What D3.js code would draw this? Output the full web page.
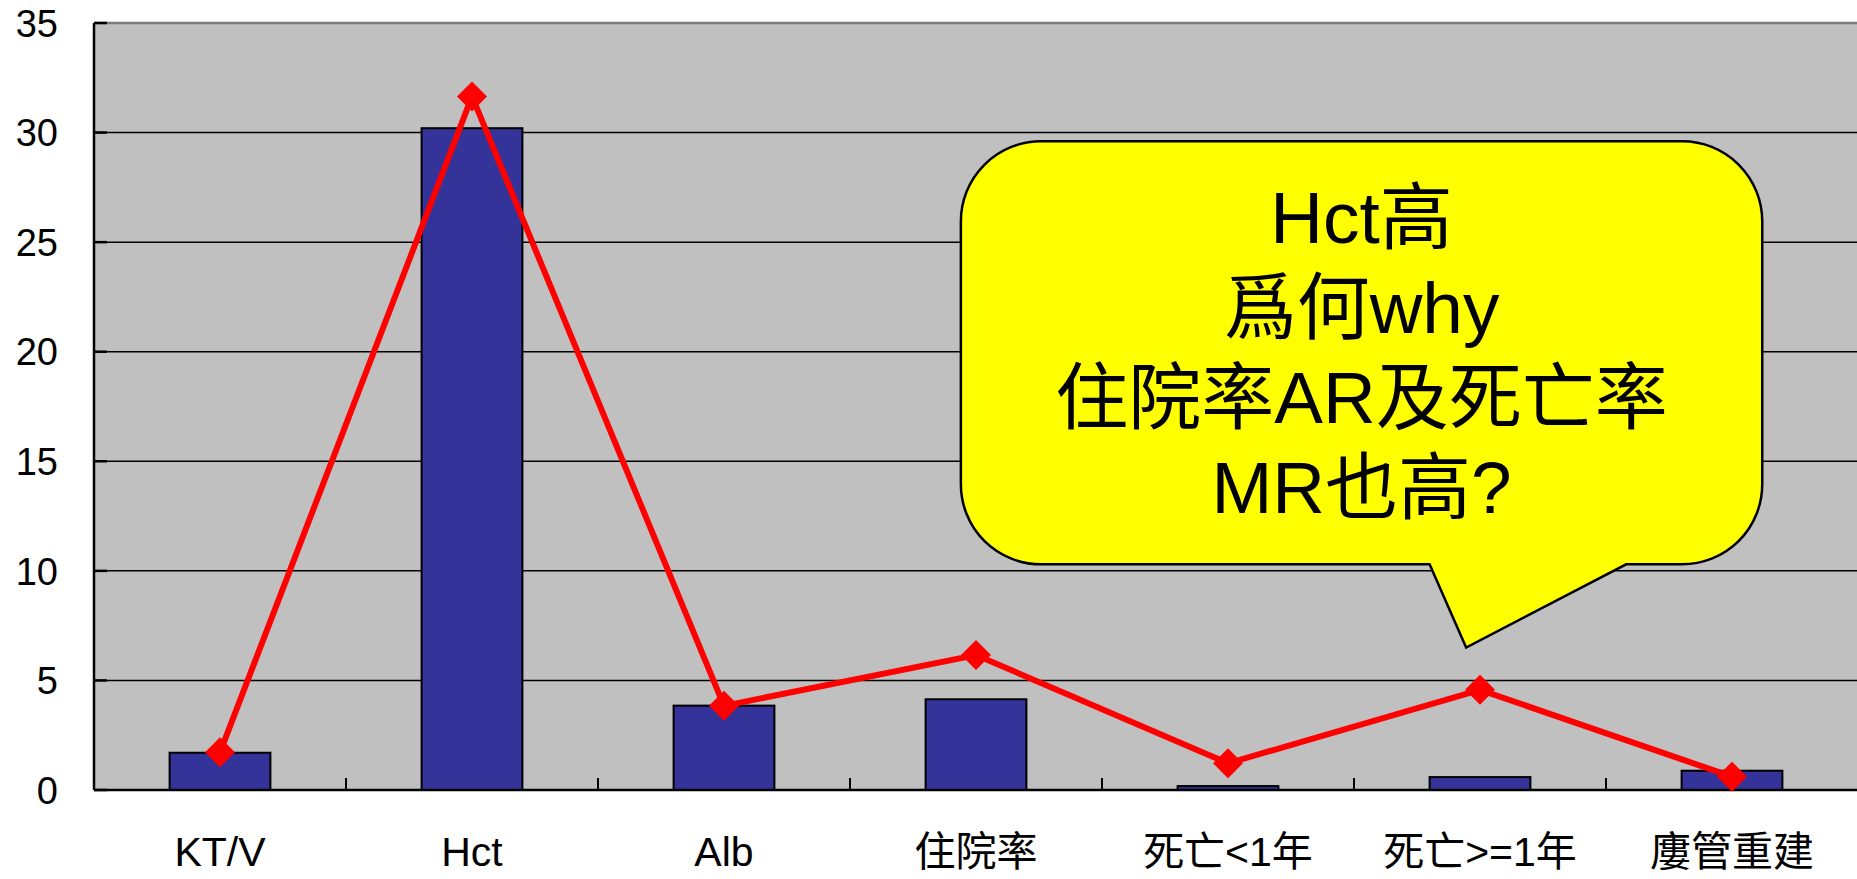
<!DOCTYPE html>
<html>
<head>
<meta charset="utf-8">
<script src="https://cdn.jsdelivr.net/npm/d3@7"></script>
<style>
  html, body { margin: 0; padding: 0; background: #fff; }
  svg { display: block; }
  text { font-family: "Liberation Sans", Arial, "Noto Sans CJK TC", sans-serif; }
</style>
</head>
<body>
<script>
////////////////////////////////////////// DATA //////////////////////////////////////////
var categories = ["KT/V", "Hct", "Alb", "住院率", "死亡<1年", "死亡>=1年", "廔管重建"];
var barValues  = [1.70, 30.2, 3.85, 4.14, 0.18, 0.59, 0.88];
var lineValues = [1.72, 31.65, 3.84, 6.16, 1.22, 4.57, 0.61];
var yTicks     = [0, 5, 10, 15, 20, 25, 30, 35];
var calloutLines = ["Hct高", "爲何why", "住院率AR及死亡率", "MR也高?"];

////////////////////////////////////////// SETUP //////////////////////////////////////////
var width = 1857,
    height = 879,
    margin = {top: 23, left: 94},
    plotW = 252 * categories.length,
    plotH = 767;

var svg = d3.select("body").append("svg")
    .attr("width", width)
    .attr("height", height);

var x = d3.scaleBand()
    .domain(categories)
    .range([margin.left, margin.left + plotW])
    .padding(0);

var y = d3.scaleLinear()
    .domain([0, 35])
    .range([margin.top + plotH, margin.top]);

var step = x.step();
var barW = step * 0.4;

// plot area
svg.append("rect")
    .attr("x", x.range()[0])
    .attr("y", y(35))
    .attr("width", plotW)
    .attr("height", plotH)
    .attr("fill", "#c0c0c0");

// gridlines
svg.append("g").selectAll("line")
    .data(yTicks.filter(function (d) { return d > 0 && d < 35; }))
    .enter().append("line")
    .attr("x1", x.range()[0]).attr("x2", x.range()[1])
    .attr("y1", function (d) { return y(d); })
    .attr("y2", function (d) { return y(d); })
    .attr("stroke", "#000")
    .attr("stroke-width", 1.5);

// top border
svg.append("line")
    .attr("x1", x.range()[0]).attr("x2", x.range()[1])
    .attr("y1", y(35)).attr("y2", y(35))
    .attr("stroke", "#7a7a7a")
    .attr("stroke-width", 2.5);

////////////////////////////////////////// BARS //////////////////////////////////////////
svg.append("g").selectAll("rect")
    .data(barValues)
    .enter().append("rect")
    .attr("x", function (d, i) { return x(categories[i]) + (step - barW) / 2; })
    .attr("y", function (d) { return y(d); })
    .attr("width", barW)
    .attr("height", function (d) { return y(0) - y(d); })
    .attr("fill", "#333399")
    .attr("stroke", "#000")
    .attr("stroke-width", 2);

////////////////////////////////////////// AXES //////////////////////////////////////////
// y axis line + inner ticks
svg.append("line")
    .attr("x1", x.range()[0]).attr("x2", x.range()[0])
    .attr("y1", y(35)).attr("y2", y(0))
    .attr("stroke", "#000").attr("stroke-width", 2.5);

svg.append("g").selectAll("line")
    .data(yTicks)
    .enter().append("line")
    .attr("x1", x.range()[0]).attr("x2", x.range()[0] + 13)
    .attr("y1", function (d) { return y(d); })
    .attr("y2", function (d) { return y(d); })
    .attr("stroke", "#000").attr("stroke-width", 2.5);

svg.append("g").selectAll("text")
    .data(yTicks)
    .enter().append("text")
    .attr("x", 58)
    .attr("y", function (d) { return y(d); })
    .attr("dy", "0.36em")
    .attr("text-anchor", "end")
    .attr("font-size", "38px")
    .attr("fill", "#000")
    .text(function (d) { return d; });

// x axis line + ticks between categories
svg.append("line")
    .attr("x1", x.range()[0]).attr("x2", x.range()[1])
    .attr("y1", y(0)).attr("y2", y(0))
    .attr("stroke", "#000").attr("stroke-width", 2.5);

svg.append("g").selectAll("line")
    .data(categories.slice(1))
    .enter().append("line")
    .attr("x1", function (d) { return x(d); })
    .attr("x2", function (d) { return x(d); })
    .attr("y1", y(0)).attr("y2", y(0) - 12)
    .attr("stroke", "#000").attr("stroke-width", 2);

svg.append("g").selectAll("text")
    .data(categories)
    .enter().append("text")
    .attr("x", function (d) { return x(d) + step / 2; })
    .attr("y", 866)
    .attr("text-anchor", "middle")
    .attr("font-size", "41px")
    .attr("fill", "#000")
    .text(function (d) { return d; });

////////////////////////////////////////// LINE //////////////////////////////////////////
var line = d3.line()
    .x(function (d, i) { return x(categories[i]) + step / 2; })
    .y(function (d) { return y(d); });

svg.append("path")
    .datum(lineValues)
    .attr("d", line)
    .attr("fill", "none")
    .attr("stroke", "#ff0000")
    .attr("stroke-width", 6)
    .attr("stroke-linejoin", "miter");

svg.append("g").selectAll("path")
    .data(lineValues)
    .enter().append("path")
    .attr("transform", function (d, i) {
        return "translate(" + (x(categories[i]) + step / 2) + "," + y(d) + ")";
    })
    .attr("d", "M0,-15L15,0L0,15L-15,0Z")
    .attr("fill", "#ff0000");

////////////////////////////////////////// CALLOUT //////////////////////////////////////////
// position in category units (u) and value units
function px(u) { return x.range()[0] + u * step; }

var bx0 = px(3.44), bx1 = px(6.62),
    by0 = y(29.6), by1 = y(10.3),
    r = 80,
    tailL = px(5.30), tailR = px(6.08),
    tipX = px(5.445), tipY = y(6.5);

var p = d3.path();
p.moveTo(bx0 + r, by0);
p.lineTo(bx1 - r, by0);
p.arcTo(bx1, by0, bx1, by0 + r, r);
p.lineTo(bx1, by1 - r);
p.arcTo(bx1, by1, bx1 - r, by1, r);
p.lineTo(tailR, by1);
p.lineTo(tipX, tipY);
p.lineTo(tailL, by1);
p.lineTo(bx0 + r, by1);
p.arcTo(bx0, by1, bx0, by1 - r, r);
p.lineTo(bx0, by0 + r);
p.arcTo(bx0, by0, bx0 + r, by0, r);
p.closePath();

svg.append("path")
    .attr("d", p.toString())
    .attr("fill", "#ffff00")
    .attr("stroke", "#000")
    .attr("stroke-width", 2.5)
    .attr("stroke-linejoin", "miter");

svg.append("g").selectAll("text")
    .data(calloutLines)
    .enter().append("text")
    .attr("x", (bx0 + bx1) / 2)
    .attr("y", function (d, i) { return 243 + i * 90; })
    .attr("text-anchor", "middle")
    .attr("font-size", "73px")
    .attr("fill", "#000")
    .text(function (d) { return d; });
</script>
</body>
</html>
